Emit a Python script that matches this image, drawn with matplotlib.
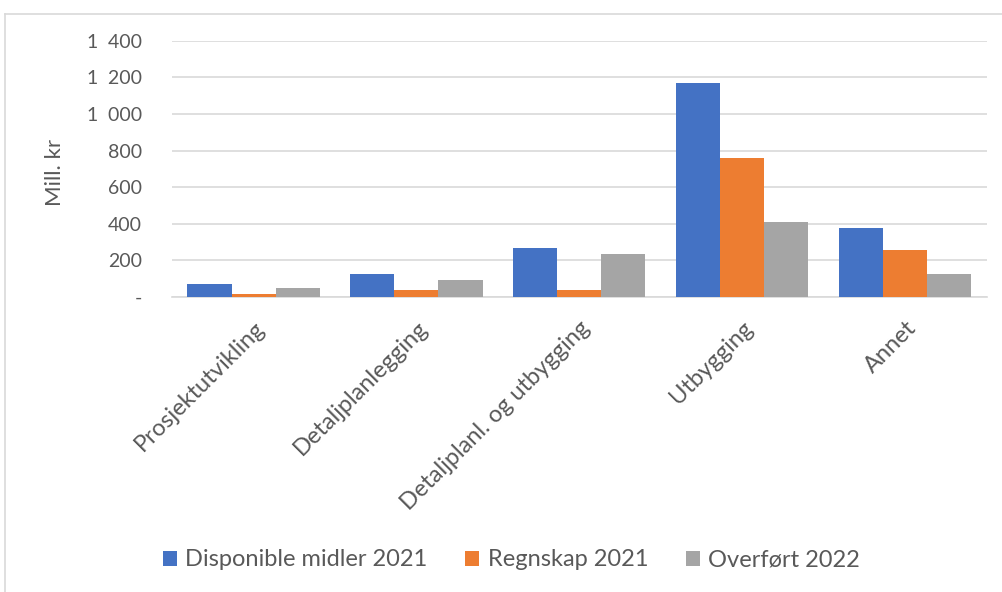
import numpy as np
import matplotlib
matplotlib.use("Agg")
import matplotlib.pyplot as plt
from matplotlib.ticker import FuncFormatter

# == data ==
categories = ["Prosjektutvikling", "Detaljplanlegging", "Detaljplanl. og utbygging",
              "Utbygging", "Annet"]
disponible = [70, 124, 269, 1170, 377]
regnskap = [16, 36, 36, 761, 256]
overfort = [47, 91, 236, 408, 124]
series_names = ["Disponible midler 2021", "Regnskap 2021", "Overført 2022"]
# ==========

colors = ["#4472C4", "#ED7D31", "#A5A5A5"]
textColor = "#595959"
plt.rcParams['font.family'] = ['Lato', 'DejaVu Sans']

fig = plt.figure(figsize=(10.03, 5.92), dpi=100)
ax = fig.add_axes([0.1715, 0.4988, 0.984 - 0.1715, 0.931 - 0.4988])

x = np.arange(len(categories))
barWidth = 0.27
for i, (vals, name) in enumerate(zip([disponible, regnskap, overfort], series_names)):
    ax.bar(x + (i - 1) * barWidth, vals, barWidth, color=colors[i], label=name, zorder=3)

ax.set_xlim(-0.5, len(categories) - 0.5)
ax.set_ylim(0, 1400)
ax.set_yticks(np.arange(0, 1401, 200))


def fmtY(v, pos):
    if v == 0:
        return "-"
    return "{:,.0f}".format(v).replace(",", "\u2002")


ax.yaxis.set_major_formatter(FuncFormatter(fmtY))
ax.grid(axis='y', color="#D9D9D9", linewidth=1.2, zorder=0)
for s in ["top", "right", "left"]:
    ax.spines[s].set_visible(False)
ax.spines["bottom"].set_color("#D9D9D9")
ax.spines["bottom"].set_linewidth(1.2)
ax.tick_params(axis='y', length=0, pad=21.6, labelsize=14, labelcolor=textColor)
ax.tick_params(axis='x', length=0, pad=15, labelsize=17, labelcolor=textColor)

ax.set_xticks(x)
ax.set_xticklabels(categories, rotation=45, ha='right', rotation_mode='anchor')
fig.text(55 / 1003, 1 - 172 / 592, "Mill. kr", rotation=90, ha='center', va='center',
         fontsize=16, color=textColor)

fig.legend(loc='center', bbox_to_anchor=(0.51, 1 - 560 / 592), ncol=3, frameon=False,
           fontsize=17, labelcolor=textColor, handlelength=0.6, handleheight=0.6,
           handletextpad=0.35, columnspacing=1.6)

# light chart border on the visible edges
fig.add_artist(plt.Line2D([5 / 1003, 5 / 1003], [0, 1 - 14 / 592], color="#D9D9D9",
                          linewidth=1.2, transform=fig.transFigure))
fig.add_artist(plt.Line2D([5 / 1003, 1], [1 - 14 / 592, 1 - 14 / 592], color="#D9D9D9",
                          linewidth=1.2, transform=fig.transFigure))

fig.savefig("out.png", dpi=100)
